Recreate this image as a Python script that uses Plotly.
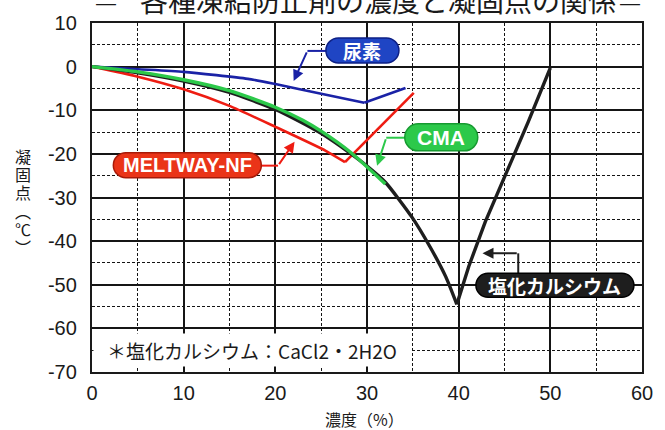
import numpy as np
import plotly.graph_objects as go

# ---- data (concentration %, freezing point °C) ----
cacl_x = [0, 5, 10, 15, 20, 22.5, 25, 28, 30, 32, 34.9, 36.9, 38.6, 39.8, 41.1, 42.9, 45.1, 47.6, 50]
cacl_y = [0, -1.4, -3.3, -5.9, -9.8, -12.4, -15.3, -19.6, -22.8, -26.5, -34.5, -41.4, -48.2, -54.5, -45.8, -35.6, -24.8, -12.6, -0.3]

cma_x = [0, 5, 10, 15, 20, 23, 25, 28.3, 32]
cma_y = [0, -1.2, -3.0, -5.5, -9.3, -12.3, -14.8, -19.8, -26.9]

melt_x = [0, 5, 10, 15, 20, 25.5, 27.6, 35.1]
melt_y = [0, -2.3, -5.2, -9.0, -13.8, -19.3, -21.9, -6.0]

urea_x = [0, 5, 10, 17, 20, 25, 29.7, 34.2]
urea_y = [0, -0.6, -1.2, -2.8, -4.0, -6.2, -8.3, -4.9]

x_ticks = [0, 10, 20, 30, 40, 50, 60]
x_tick_labels = ["0", "10", "20", "30", "40", "50", "60"]
y_ticks = [-70, -60, -50, -40, -30, -20, -10, 0, 10]
y_tick_labels = ["-70", "-60", "-50", "-40", "-30", "-20", "-10", "0", "10"]

title_text = "各種凍結防止剤の濃度と凝固点の関係"
x_title = "濃度（%）"
y_title_chars = ["凝", "固", "点", "︵", "℃", "︶"]
footnote = "＊塩化カルシウム：CaCl2・2H2O"

CJK = "Noto Sans CJK JP"
LAT = "Liberation Sans, Arial, sans-serif"
INK = "#1a1a1a"

fig = go.Figure()


def add_series(xs, ys, color, width, name):
    xs = np.asarray(xs, float)
    ys = np.asarray(ys, float)
    i = int(np.argmin(ys))
    # falling branch drawn smooth, rising branch straight, meeting sharply at the minimum
    fig.add_trace(go.Scatter(x=xs[:i + 1], y=ys[:i + 1], mode="lines", name=name,
                             line=dict(color=color, width=width, shape="spline", smoothing=0.6)))
    if i < len(xs) - 1:
        fig.add_trace(go.Scatter(x=xs[i:], y=ys[i:], mode="lines", name=name,
                                 line=dict(color=color, width=width)))


add_series(urea_x, urea_y, "#1a22a6", 2.6, "尿素")
add_series(melt_x, melt_y, "#ee1c12", 2.6, "MELTWAY-NF")
add_series(cacl_x, cacl_y, "#1e1e1e", 3.4, "塩化カルシウム")
add_series(cma_x, cma_y, "#2cc94a", 3.4, "CMA")

k = 0.5523


def pill(cx, cy, w, h, fill, edge):
    r = h / 2.0
    a = w / 2.0 - r
    p = (f"M {-a},{-r} L {a},{-r} "
         f"C {a + k * r},{-r} {a + r},{-k * r} {a + r},0 "
         f"C {a + r},{k * r} {a + k * r},{r} {a},{r} "
         f"L {-a},{r} "
         f"C {-a - k * r},{r} {-a - r},{k * r} {-a - r},0 "
         f"C {-a - r},{-k * r} {-a - k * r},{-r} {-a},{-r} Z")
    return dict(type="path", xref="x", yref="y", xsizemode="pixel", ysizemode="pixel",
                xanchor=cx, yanchor=cy, path=p, fillcolor=fill,
                line=dict(color=edge, width=1.5), layer="above")


labels = [
    dict(text="尿素", cx=29.5, cy=3.7, w=73, h=25, fill="#1f45c4", edge="#0c1f85", font=CJK, size=19,
         seg=[(25.8, 3.6), (23.5, 3.6)], head=(22.0, -3.3), col="#1a22a6"),
    dict(text="CMA", cx=38.1, cy=-16.2, w=73, h=27, fill="#2cc94a", edge="#169a30", font=LAT, size=21,
         seg=[(34.3, -16.3), (32.1, -16.3)], head=(31.1, -22.7), col="#2cc94a"),
    dict(text="MELTWAY-NF", cx=10.4, cy=-22.6, w=148, h=25, fill="#ea3418", edge="#a81a08", font=LAT, size=20,
         seg=[(18.3, -22.7), (20.3, -22.7)], head=(22.1, -17.2), col="#ee1c12"),
    dict(text="塩化カルシウム", cx=50.5, cy=-50.1, w=158, h=24, fill="#1e1e1e", edge="#000000", font=CJK, size=19,
         seg=[(46.5, -47.4), (46.5, -42.8)], head=(42.6, -42.8), col="#1e1e1e"),
]

shapes = []
annotations = []
for lb in labels:
    (x0, y0), (x1, y1) = lb["seg"]
    shapes.append(dict(type="line", xref="x", yref="y", x0=x0, y0=y0, x1=x1, y1=y1,
                       line=dict(color=lb["col"], width=2), layer="above"))
    shapes.append(pill(lb["cx"], lb["cy"], lb["w"], lb["h"], lb["fill"], lb["edge"]))
    annotations.append(dict(x=lb["head"][0], y=lb["head"][1], ax=x1, ay=y1, xref="x", yref="y",
                            axref="x", ayref="y", text="", showarrow=True, arrowhead=2,
                            arrowsize=1.1, arrowwidth=2, arrowcolor=lb["col"]))
    annotations.append(dict(x=lb["cx"], y=lb["cy"], xref="x", yref="y", text=f"<b>{lb['text']}</b>",
                            showarrow=False, font=dict(family=lb["font"], size=lb["size"], color="white")))

# footnote
annotations.append(dict(x=17.4, y=-65, xref="x", yref="y", text=footnote, showarrow=False,
                        bgcolor="white", borderpad=4, width=308, height=24,
                        font=dict(family=CJK, size=19, color=INK)))
# title (partly cut at the top)
annotations.append(dict(x=0.52, y=1.066, xref="paper", yref="paper", text=title_text, showarrow=False,
                        xanchor="center", yanchor="middle", font=dict(family=CJK, size=28, color=INK)))
annotations.append(dict(x=(106 - 92) / 561, y=1.057, xref="paper", yref="paper", text="—", showarrow=False,
                        xanchor="center", yanchor="middle", font=dict(family=LAT, size=20, color=INK)))
annotations.append(dict(x=(641 - 92) / 561, y=1.057, xref="paper", yref="paper", text="—", showarrow=False,
                        xanchor="center", yanchor="middle", font=dict(family=LAT, size=20, color=INK)))
# axis titles
annotations.append(dict(x=0.4955, y=-0.134, xref="paper", yref="paper", text=x_title, showarrow=False,
                        xanchor="center", yanchor="middle", font=dict(family=CJK, size=16, color=INK)))
for j, ch in enumerate(y_title_chars):
    py = 155 + 18.4 * j
    annotations.append(dict(x=(22 - 92) / 561, y=(372 - py) / 350, xref="paper", yref="paper", text=ch,
                            showarrow=False, xanchor="center", yanchor="middle",
                            font=dict(family=CJK, size=16, color=INK)))

axis_common = dict(showline=True, linecolor=INK, linewidth=2.4, mirror=True,
                   showgrid=True, gridcolor="#151515", gridwidth=1.6, zeroline=False, ticks="",
                   tickfont=dict(family=LAT, size=20, color=INK))
minor_grid = dict(dtick=5, showgrid=True, gridcolor="#151515", gridwidth=1.3, griddash="3px,2px")

fig.update_layout(
    width=665, height=430,
    margin=dict(l=92, r=12, t=22, b=58),
    paper_bgcolor="white", plot_bgcolor="white",
    showlegend=False,
    shapes=shapes, annotations=annotations,
    xaxis=dict(range=[0, 60], tickvals=x_ticks, ticktext=x_tick_labels, minor=minor_grid,
               ticklabelstandoff=2, **axis_common),
    yaxis=dict(range=[-70, 10], tickvals=y_ticks, ticktext=y_tick_labels, minor=minor_grid,
               ticklabelstandoff=9, **axis_common),
)

fig.write_html("out.html", config={"displayModeBar": False},
               post_script="document.body.style.margin='0';")
